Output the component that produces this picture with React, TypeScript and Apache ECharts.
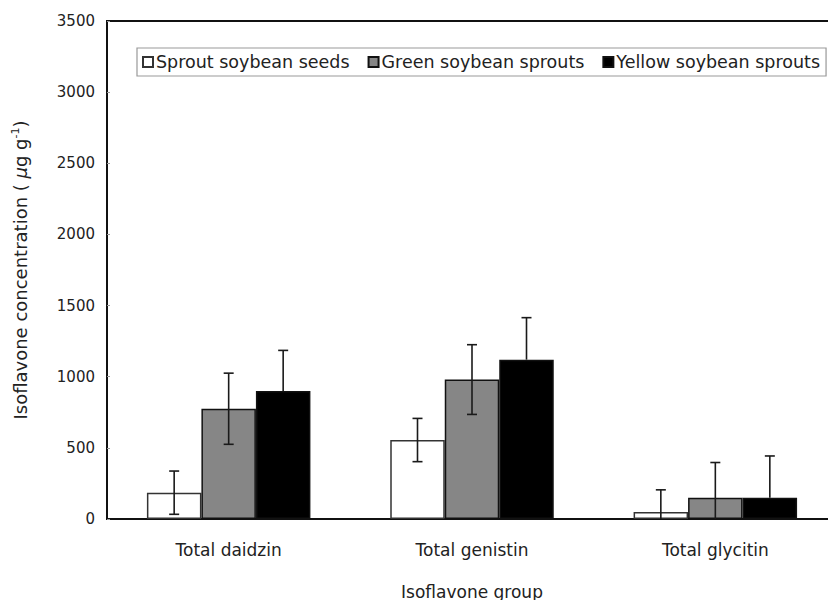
import React, { useEffect, useRef } from "react";
import * as echarts from "echarts";

const categories = ["Total daidzin", "Total genistin", "Total glycitin"];
const seriesNames = ["Sprout soybean seeds", "Green soybean sprouts", "Yellow soybean sprouts"];
const seedsValues = [185, 555, 50];
const greenValues = [775, 980, 150];
const yellowValues = [900, 1120, 150];
const seedsErrors = [152, 152, 155];
const greenErrors = [250, 245, 247];
const yellowErrors = [285, 295, 293];
const yTicks = [0, 500, 1000, 1500, 2000, 2500, 3000, 3500];

const FONT = "DejaVu Sans";
const BAR_W = 54.5;
const TXT = 17;

export default function App() {
  const ref = useRef<HTMLDivElement>(null);
  useEffect(() => {
    if (!ref.current) return;
    const chart = echarts.init(ref.current, null, { renderer: "svg" });
    const values = [seedsValues, greenValues, yellowValues];
    const errors = [seedsErrors, greenErrors, yellowErrors];
    const fills = ["#ffffff", "#868686", "#000000"];
    const errData: number[][] = [];
    values.forEach((vals, s) => {
      vals.forEach((v, c) => errData.push([c, v, errors[s][c], s]));
    });
    chart.setOption({
      animation: false,
      textStyle: { fontFamily: FONT, color: "#222" },
      grid: {
        left: 107,
        top: 21,
        right: -9,
        bottom: 81,
        outerBoundsMode: "none",
        containLabel: false,
        show: true,
        borderColor: "#111",
        borderWidth: 2,
        backgroundColor: "transparent",
      },
      legend: {
        left: 137,
        top: 48,
        orient: "horizontal",
        data: seriesNames,
        icon: "rect",
        itemWidth: 10,
        itemHeight: 10,
        itemGap: 18,
        padding: [5, 6, 5, 5],
        borderColor: "#999",
        borderWidth: 1.2,
        textStyle: { fontFamily: FONT, fontSize: 17.5, color: "#222", padding: [0, 0, 0, -2] },
      },
      xAxis: {
        type: "category",
        data: categories,
        axisLine: { lineStyle: { color: "#111", width: 2 } },
        axisTick: { show: false },
        axisLabel: { fontSize: TXT, color: "#222", margin: 22, fontFamily: FONT },
        name: "Isoflavone group",
        nameLocation: "middle",
        nameGap: 64,
        nameTextStyle: { fontSize: TXT, color: "#222", fontFamily: FONT },
      },
      yAxis: {
        type: "value",
        min: 0,
        max: 3500,
        interval: 500,
        splitLine: { show: false },
        axisLine: { show: true, lineStyle: { color: "#111", width: 2 } },
        axisTick: { show: true, inside: true, length: 3, lineStyle: { color: "#999" } },
        axisLabel: {
          fontSize: 15,
          color: "#222",
          margin: 12,
          fontFamily: FONT,
          formatter: (v: number) => (yTicks.includes(v) ? String(v) : ""),
        },
        name: "{a|Isoflavone concentration ( }{m|μ}{a|g g}{s|-1}{a|)}",
        nameLocation: "middle",
        nameGap: 76,
        nameRotate: 90,
        nameTextStyle: {
          fontFamily: FONT,
          rich: {
            a: { fontSize: 18, color: "#222", fontFamily: FONT },
            m: { fontSize: 18, color: "#222", fontFamily: FONT, fontStyle: "italic" },
            s: { fontSize: 11, color: "#222", fontFamily: FONT, verticalAlign: "top", padding: [0, 0, 10, 0] },
          },
        },
      },
      series: [
        ...values.map((vals, s) => ({
          type: "bar",
          name: seriesNames[s],
          data: vals,
          barWidth: BAR_W,
          barGap: "0%",
          itemStyle: { color: fills[s], borderColor: s === 0 ? "#333" : "#111", borderWidth: 1.5 },
          z: 2,
        })),
        {
          type: "custom",
          data: errData,
          z: 5,
          silent: true,
          renderItem: (params: any, api: any) => {
            const c = api.value(0);
            const v = api.value(1);
            const e = api.value(2);
            const s = api.value(3);
            const off = (s - 1) * BAR_W;
            const top = api.coord([c, v + e]);
            const lowVal = s === 2 ? v : Math.max(0, v - e);
            const bot = api.coord([c, lowVal]);
            const x = top[0] + off;
            const hw = 5;
            const hasBottomCap = s !== 2 && v - e > 0;
            const style = { stroke: "#1a1a1a", lineWidth: 1.6 };
            const children: any[] = [
              { type: "line", shape: { x1: x, y1: top[1], x2: x, y2: bot[1] }, style },
              { type: "line", shape: { x1: x - hw, y1: top[1], x2: x + hw, y2: top[1] }, style },
            ];
            if (hasBottomCap) {
              children.push({ type: "line", shape: { x1: x - hw, y1: bot[1], x2: x + hw, y2: bot[1] }, style });
            }
            return { type: "group", children };
          },
        },
      ],
    });
    return () => chart.dispose();
  }, []);
  return (
    <div
      ref={ref}
      style={{ position: "fixed", left: 0, top: 0, width: 828, height: 600, background: "#fff" }}
    />
  );
}
